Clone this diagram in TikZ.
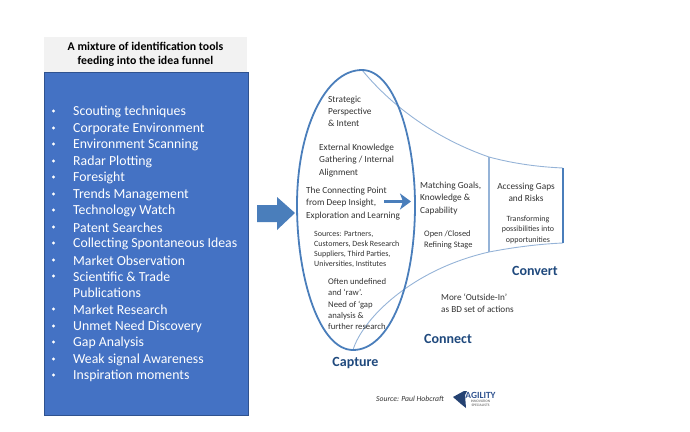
\documentclass[tikz,border=0pt]{standalone}
\usepackage{fontspec}
\setmainfont{Carlito}
\usetikzlibrary{arrows.meta}
\definecolor{boxblue}{RGB}{68,114,196}
\definecolor{boxedge}{RGB}{47,82,143}
\definecolor{headgrey}{RGB}{242,242,242}
\definecolor{funnelblue}{RGB}{74,126,187}
\definecolor{funnellight}{RGB}{149,179,215}
\definecolor{darkblue}{RGB}{31,73,125}
\definecolor{notegrey}{RGB}{50,50,50}
\tikzstyle{listitem}=[anchor=west,text=white,font=\fontsize{13.8}{16}\selectfont,inner sep=0pt]
\tikzstyle{bulletdot}=[circle,fill=white,inner sep=0pt,minimum size=3.4pt]
\tikzstyle{note}=[anchor=north west,align=left,text=notegrey,inner sep=0pt,font=\fontsize{9.3}{12.3}\selectfont]
\tikzstyle{smallnote}=[note,font=\fontsize{8}{10.2}\selectfont]
\tikzstyle{stage}=[text=darkblue,inner sep=0pt,font=\bfseries\fontsize{14}{15}\selectfont]
\begin{document}
\begin{tikzpicture}[x=1pt,y=-1pt]
            \useasboundingbox (0,0) rectangle (690,431);
            % left panel
            \node [draw=boxedge,fill=boxblue,line width=0.6pt,minimum width=204pt,minimum height=343pt,inner sep=0pt] (panel) at (146,243.5) {};
            \node [fill=headgrey,minimum width=203pt,minimum height=35pt,inner sep=0pt,align=center,font=\bfseries\fontsize{11.8}{14.6}\selectfont] (head) at (145.5,54.5) {\raisebox{-0.7pt}{A mixture of identification tools}\\\raisebox{-0.7pt}{feeding into the idea funnel}};
            \foreach \y/\txt in {111/Scouting techniques,128/Corporate Environment,144/Environment Scanning,161/Radar Plotting,177/Foresight,194/Trends Management,210/Technology Watch,227/Patent Searches,243/Collecting Spontaneous Ideas,260/Market Observation,276/Scientific \& Trade,309/Market Research,326/Unmet Need Discovery,342/Gap Analysis,359/Weak signal Awareness,375/Inspiration moments}
            {
                \node [style=bulletdot] (b\y) at (53.5,\y) {};
                \node [style=listitem] (i\y) at (73,\y+1) {\txt};
            }
            \node [style=listitem] (publ) at (73,293) {Publications};
            % block arrow
            \fill [funnelblue] (257,205) -- (277,205) -- (277,197) -- (295,213) -- (277,230) -- (277,222) -- (257,222) -- cycle;
            % funnel
            \coordinate (top) at (362,70);
            \coordinate (rgt) at (415,205);
            \coordinate (bot) at (353,350);
            \coordinate (lft) at (297,205);
            \coordinate (t1) at (489,157);
            \coordinate (t2) at (563,168);
            \coordinate (b1) at (489,252);
            \coordinate (b2) at (563,243);
            \draw [funnellight,line width=0.9pt] (top) .. controls (395,110) and (440,140) .. (t1) .. controls (515,164) and (540,167) .. (t2);
            \draw [funnellight,line width=0.9pt] (bot) .. controls (362,320) and (410,270) .. (b1) .. controls (515,247) and (540,244) .. (b2);
            \draw [funnellight,line width=1.5pt] (t1) -- (b1);
            \draw [funnelblue,line width=1.6pt] (t2) -- (b2);
            \draw [funnelblue,line width=1.8pt] (top) .. controls (395,70) and (415,140) .. (rgt)
                .. controls (415,285) and (390,350) .. (bot)
                .. controls (320,350) and (297,280) .. (lft)
                .. controls (297,130) and (325,70) .. cycle;
            \coordinate (in0) at (384,201.5);
            \coordinate (in1) at (411,201.5);
            \draw [funnelblue,line width=2.8pt,-{Stealth[length=11pt,width=16pt,inset=3pt]}] (in0) -- (in1);
            % notes
            \node [style=note] (n1) at (328,95.5) {Strategic\\Perspective\\\& Intent};
            \node [style=note] (n2) at (319,144) {External Knowledge\\Gathering / Internal\\Alignment};
            \node [style=note] (n3) at (306,187) {The Connecting Point\\from Deep Insight,\\Exploration and Learning};
            \node [style=smallnote] (n4) at (314,231) {Sources: Partners,\\Customers, Desk Research\\Suppliers, Third Parties,\\Universities, Institutes};
            \node [style=smallnote,font=\fontsize{8.7}{11.2}\selectfont] (n5) at (328,278.5) {Often undefined\\and ‘raw’.\\Need of ‘gap\\analysis \&\\further research};
            \node [style=note] (n6) at (420,182) {Matching Goals,\\Knowledge \&\\Capability};
            \node [style=smallnote,font=\fontsize{8.4}{11}\selectfont] (n7) at (424,230) {Open /Closed\\Refining Stage};
            \node [style=note,align=center,anchor=north] (n8) at (526,182.5) {Accessing Gaps\\and Risks};
            \node [style=smallnote,align=center,anchor=north] (n9) at (528,216) {Transforming\\possibilities into\\opportunities};
            \node [style=note,font=\fontsize{9.2}{11.4}\selectfont] (n10) at (441,294) {More ‘Outside-In’\\as BD set of actions};
            \node [style=stage] (capture) at (355.5,363) {Capture};
            \node [style=stage] (connect) at (448,339) {Connect};
            \node [style=stage] (convert) at (535,271) {Convert};
            % source and logo
            \node [inner sep=0pt,text=notegrey,font=\itshape\fontsize{7.7}{10}\selectfont] (source) at (410,399) {Source: Paul Hobcraft};
            \fill [boxedge!80!black] (453,397) -- (464,391) -- (467,391) -- (465,395) -- (466,408) -- (461,404) -- cycle;
            \node [inner sep=0pt,text=boxedge,font=\bfseries\fontsize{9.4}{9.4}\selectfont] (logo) at (480.5,395) {AGILITY};
            \node [inner sep=0pt,text=gray,font=\bfseries\fontsize{3.6}{4}\selectfont,align=center] (logosub) at (480.5,403) {INNOVATION\\SPECIALISTS};
    \end{tikzpicture}
\end{document}
